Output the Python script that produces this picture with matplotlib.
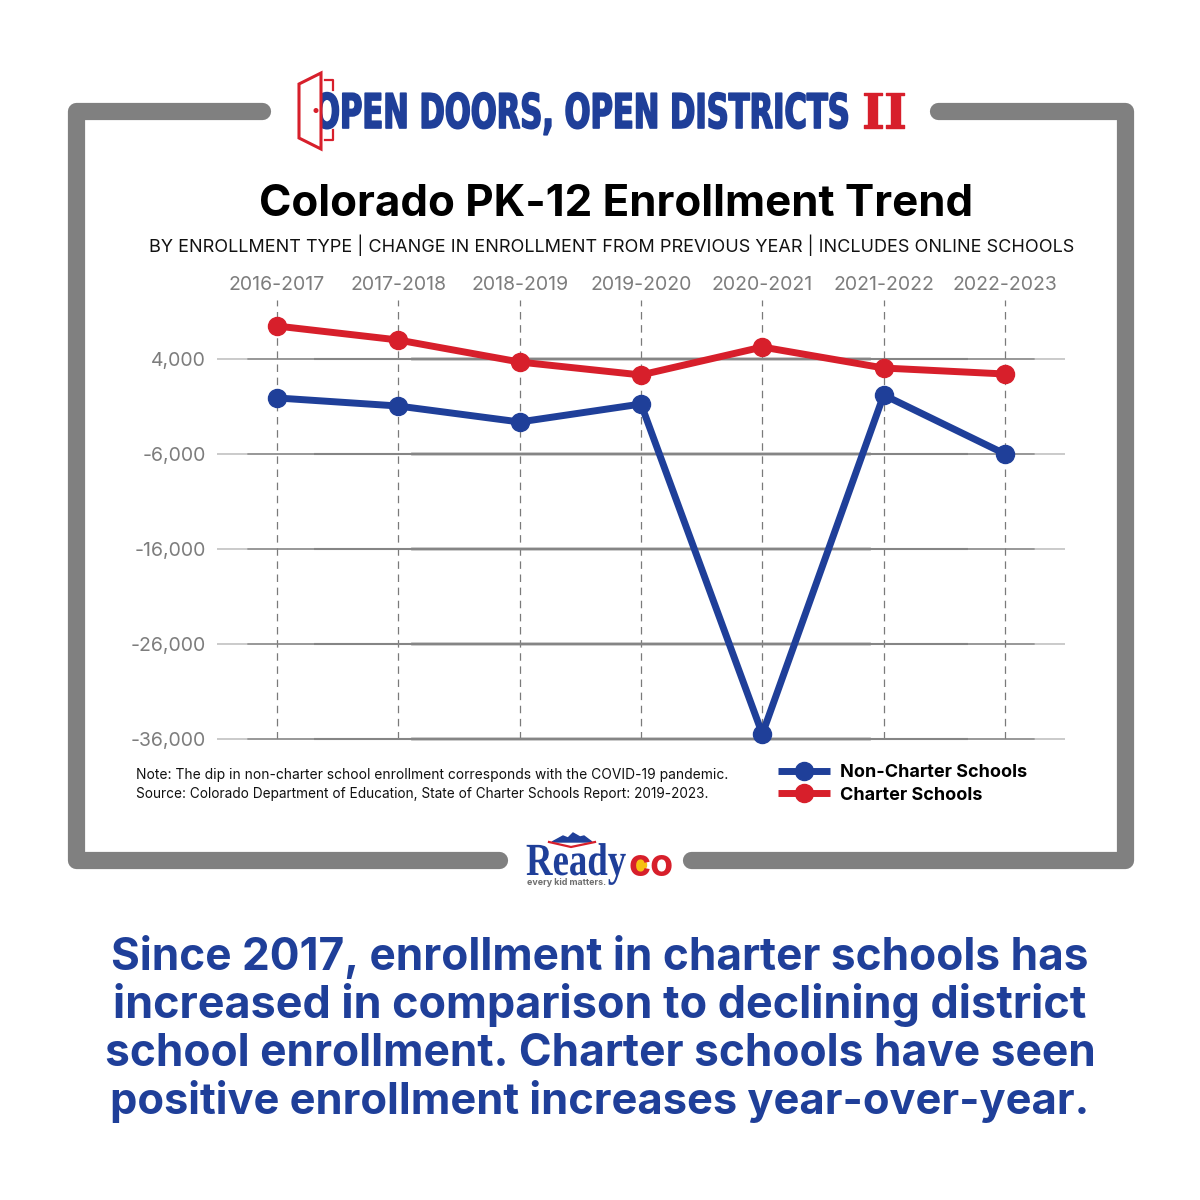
import matplotlib
matplotlib.use('Agg')
import matplotlib.pyplot as plt
from matplotlib.patches import Circle, Polygon
from matplotlib.lines import Line2D
from matplotlib.patheffects import AbstractPathEffect
from matplotlib.transforms import Affine2D

#------------------------------------------------------------------------------
# Data
#------------------------------------------------------------------------------
years = ['2016-2017', '2017-2018', '2018-2019', '2019-2020', '2020-2021', '2021-2022', '2022-2023']
non_charter = [-100, -950, -2630, -740, -35470, 210, -6000]
charter = [7470, 6000, 3680, 2320, 5260, 3050, 2420]
y_ticks = [4000, -6000, -16000, -26000, -36000]
y_labels = ['4,000', '-6,000', '-16,000', '-26,000', '-36,000']
headline = ['Since 2017, enrollment in charter schools has',
            'increased in comparison to declining district',
            'school enrollment. Charter schools have seen',
            'positive enrollment increases year-over-year.']
headline_sizes = [31.8, 32.4, 31.9, 31.25]

BLUE = '#1f3f99'
RED = '#d71f2b'
GRAY = '#808080'
TICK = '#7d7d7d'
FONT = ['Inter', 'DejaVu Sans']
W = 1200.0


class StretchY(AbstractPathEffect):
    # logo lettering is taller than any installed font, stretch it about its baseline
    def __init__(self, baseline, factor, stroke=0):
        super().__init__()
        self.y0 = W - baseline
        self.factor = factor
        self.stroke = stroke

    def draw_path(self, renderer, gc, tpath, affine, rgbFace=None):
        stretch = Affine2D().translate(0, -self.y0).scale(1, self.factor).translate(0, self.y0)
        gc0 = renderer.new_gc()
        gc0.copy_properties(gc)
        gc0.set_linewidth(self.stroke)
        gc0.set_foreground(rgbFace)
        renderer.draw_path(gc0, tpath, affine + stretch, rgbFace)
        gc0.restore()


fig = plt.figure(figsize=(12, 12), dpi=100, facecolor='white')

# overlay in pixel coordinates for frame, logos and text
bg = fig.add_axes([0, 0, 1, 1])
bg.set_xlim(0, W)
bg.set_ylim(W, 0)
bg.axis('off')

#------------------------------------------------------------------------------
# Frame
#------------------------------------------------------------------------------
frame = dict(color=GRAY, lw=12.4, solid_capstyle='round', solid_joinstyle='round')
bg.plot([262, 76, 76, 499], [111, 111, 860, 860], **frame)
bg.plot([938, 1125, 1125, 691], [111, 111, 860, 860], **frame)

#------------------------------------------------------------------------------
# Top logo
#------------------------------------------------------------------------------
bg.text(314, 128, 'OPEN DOORS, OPEN DISTRICTS', color=BLUE, fontsize=22.0, fontweight='bold',
        family='DejaVu Sans', ha='left', va='baseline', path_effects=[StretchY(128, 1.56, 1.2)])
bg.text(884, 128, 'II', color=RED, fontsize=35, fontweight='bold',
        family='DejaVu Serif', ha='center', va='baseline', path_effects=[StretchY(128, 1.0, 1.0)])
bg.add_patch(Polygon([[299, 84], [321, 73], [321, 149], [299, 138]], closed=True,
                     fc='white', ec=RED, lw=2.2, zorder=4))
bg.add_patch(Circle((316, 110.5), 1.8, color=RED, zorder=5))
bg.plot([325, 333, 333], [80, 80, 90], color=RED, lw=1.6, zorder=5)
bg.plot([325, 333, 333], [140, 140, 130], color=RED, lw=1.6, zorder=5)

#------------------------------------------------------------------------------
# Titles
#------------------------------------------------------------------------------
bg.text(616, 204, 'Colorado PK-12 Enrollment Trend', fontsize=31.6, fontweight='bold',
        family=FONT, ha='center', va='center', color='black')
bg.text(612, 245, 'BY ENROLLMENT TYPE | CHANGE IN ENROLLMENT FROM PREVIOUS YEAR | INCLUDES ONLINE SCHOOLS',
        fontsize=13, family=FONT, ha='center', va='center', color='#111111')

#------------------------------------------------------------------------------
# Chart
#------------------------------------------------------------------------------
ax = fig.add_axes([217 / W, 1 - 739 / W, 848 / W, 439 / W])
ax.patch.set_alpha(0)
xvals = list(range(len(years)))
ax.set_xlim(-0.494, 6.494)
ax.set_ylim(-36000, 10210)

ax.set_xticks(xvals)
ax.set_xticklabels(years)
ax.xaxis.tick_top()
ax.set_yticks(y_ticks)
ax.set_yticklabels(y_labels)
ax.tick_params(axis='both', length=0, labelcolor=TICK, labelsize=14)
ax.tick_params(axis='x', pad=4.5)
ax.tick_params(axis='y', pad=8)
for lab in ax.get_xticklabels() + ax.get_yticklabels():
    lab.set_family(FONT)
for s in ax.spines.values():
    s.set_visible(False)

ax.grid(axis='x', color='#7a7a7a', lw=0.9, ls=(0, (6, 4.5)))
ax.set_axisbelow(True)
# grid rules taper towards the ends
for inset, width in [(0, 0.6), (0.25, 1.0), (0.8, 1.5), (1.6, 2.0)]:
    ax.hlines(y_ticks, -0.494 + inset, 6.494 - inset, color='#858585', lw=width, zorder=1,
              clip_on=False, snap=False)

ax.plot(xvals, non_charter, color=BLUE, lw=5, marker='o', ms=13, clip_on=False, zorder=3)
ax.plot(xvals, charter, color=RED, lw=5, marker='o', ms=13, clip_on=False, zorder=4)

#------------------------------------------------------------------------------
# Note and legend
#------------------------------------------------------------------------------
bg.text(136, 775, 'Note: The dip in non-charter school enrollment corresponds with the COVID-19 pandemic.',
        fontsize=9.95, family=FONT, ha='left', va='center', color='#111111')
bg.text(136, 794, 'Source: Colorado Department of Education, State of Charter Schools Report: 2019-2023.',
        fontsize=9.82, family=FONT, ha='left', va='center', color='#111111')

handles = [Line2D([], [], color=BLUE, lw=5, marker='o', ms=13, solid_capstyle='butt'),
           Line2D([], [], color=RED, lw=5, marker='o', ms=13, solid_capstyle='butt')]
fig.legend(handles, ['Non-Charter Schools', 'Charter Schools'], loc='upper left',
           bbox_to_anchor=(778 / W, 1 - 764 / W), borderpad=0, borderaxespad=0,
           frameon=False, handlelength=2.88, handletextpad=0.55, labelspacing=0.32,
           prop={'family': FONT, 'weight': 'bold', 'size': 13})

#------------------------------------------------------------------------------
# Ready CO logo
#------------------------------------------------------------------------------
bg.add_patch(Polygon([[552, 842], [563, 836], [568, 838], [573, 833], [580, 837],
                      [584, 836], [592, 842]], color=BLUE))
bg.plot([549, 571, 595], [842, 847, 842], color=RED, lw=1.6)
bg.text(526, 875, 'Ready', color=BLUE, fontsize=26.5, fontweight='bold',
        family=['Liberation Serif', 'DejaVu Serif'], ha='left', va='baseline',
        path_effects=[StretchY(875, 1.25)])
bg.add_patch(Circle((640, 865), 6.5, color='#f6c012', zorder=3))
bg.text(628, 876, 'co', color=RED, fontsize=27, fontweight='bold', family=FONT,
        ha='left', va='baseline', zorder=4)
bg.text(527, 885, 'every kid matters.', color='#6f6f6f', fontsize=6.4, fontweight='bold',
        family=FONT, ha='left', va='baseline')

#------------------------------------------------------------------------------
# Headline
#------------------------------------------------------------------------------
for i, line in enumerate(headline):
    bg.text(600, 957 + i * 48.3, line, color=BLUE, fontsize=headline_sizes[i], fontweight='bold',
            family=FONT, ha='center', va='center')

fig.savefig('out.png', dpi=100)
